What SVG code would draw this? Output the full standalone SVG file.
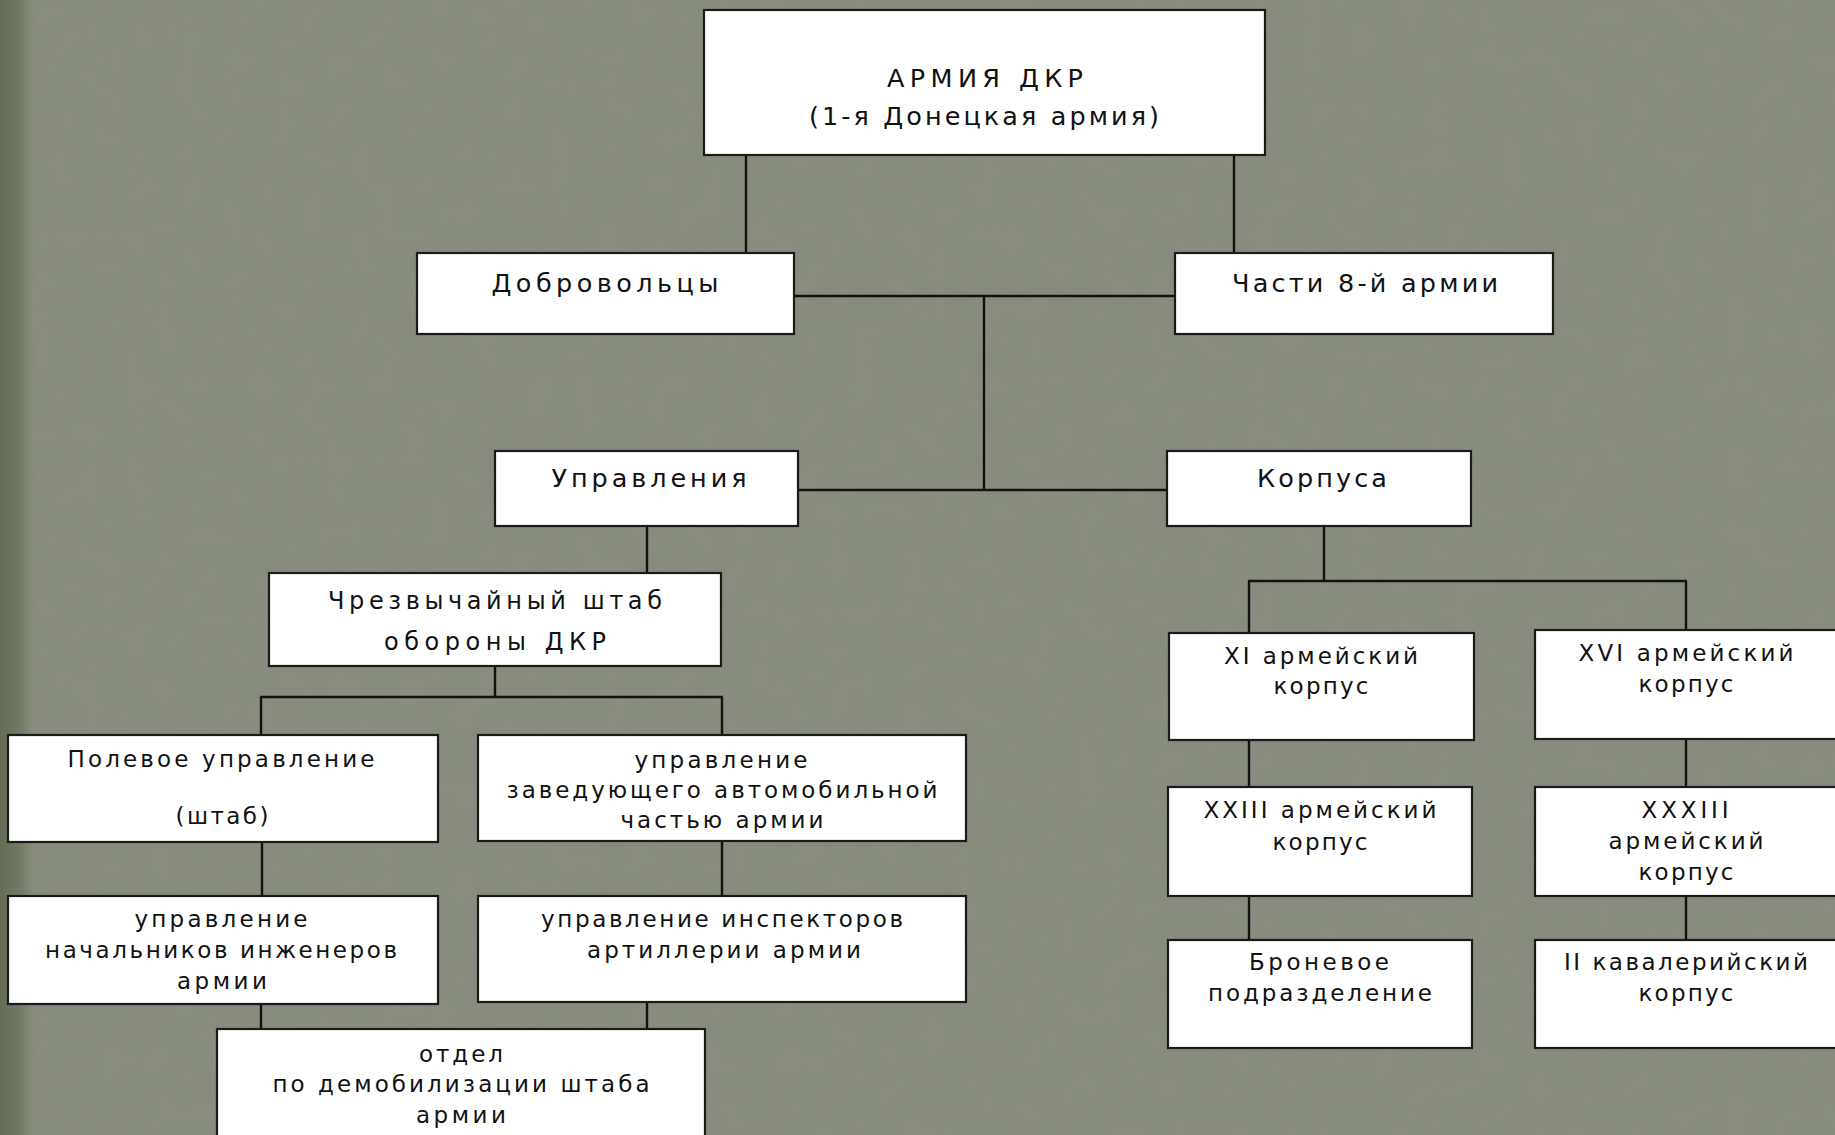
<svg xmlns="http://www.w3.org/2000/svg" width="1835" height="1135" viewBox="0 0 1835 1135">
<defs>
<style>
.box{fill:#ffffff;stroke:#1a1a1a;stroke-width:2.2}
.ln{stroke:#111111;stroke-width:2.4;fill:none}
text{font-family:"DejaVu Sans","Liberation Sans",sans-serif;fill:#111111;text-anchor:middle}
.t1{font-size:25.5px}
.t2{font-size:24px}
.t3{font-size:23px}
</style>
<linearGradient id="edge" x1="0" y1="0" x2="1" y2="0">
<stop offset="0" stop-color="#646c55"/>
<stop offset="0.6" stop-color="#737a66"/>
<stop offset="1" stop-color="#858a7c" stop-opacity="0"/>
</linearGradient>
<filter id="tex" x="0" y="0" width="100%" height="100%">
<feTurbulence type="fractalNoise" baseFrequency="0.04" numOctaves="3" seed="4"/>
<feColorMatrix type="matrix" values="0 0 0 0 0.35  0 0 0 0 0.38  0 0 0 0 0.32  0 0 0 0.35 -0.08"/>
</filter>
</defs>
<rect x="0" y="0" width="1835" height="1135" fill="#868b7d"/>
<rect x="0" y="0" width="1835" height="1135" filter="url(#tex)" opacity="0.5"/>
<rect x="0" y="0" width="36" height="1135" fill="url(#edge)"/>

<g id="connectors">
<line class="ln" x1="746" y1="155" x2="746" y2="253"/>
<line class="ln" x1="1234" y1="155" x2="1234" y2="253"/>
<line class="ln" x1="794" y1="296" x2="1175" y2="296"/>
<line class="ln" x1="984" y1="296" x2="984" y2="491"/>
<line class="ln" x1="798" y1="490" x2="1167" y2="490"/>
<line class="ln" x1="647" y1="526" x2="647" y2="573"/>
<line class="ln" x1="495" y1="666" x2="495" y2="697"/>
<line class="ln" x1="260" y1="697" x2="723" y2="697"/>
<line class="ln" x1="261" y1="697" x2="261" y2="735"/>
<line class="ln" x1="722" y1="697" x2="722" y2="735"/>
<line class="ln" x1="262" y1="842" x2="262" y2="896"/>
<line class="ln" x1="722" y1="841" x2="722" y2="896"/>
<line class="ln" x1="261" y1="1004" x2="261" y2="1029"/>
<line class="ln" x1="647" y1="1002" x2="647" y2="1029"/>
<line class="ln" x1="1324" y1="526" x2="1324" y2="581"/>
<line class="ln" x1="1248" y1="581" x2="1687" y2="581"/>
<line class="ln" x1="1249" y1="581" x2="1249" y2="633"/>
<line class="ln" x1="1686" y1="581" x2="1686" y2="630"/>
<line class="ln" x1="1249" y1="740" x2="1249" y2="787"/>
<line class="ln" x1="1686" y1="739" x2="1686" y2="787"/>
<line class="ln" x1="1249" y1="896" x2="1249" y2="940"/>
<line class="ln" x1="1686" y1="896" x2="1686" y2="940"/>
</g>

<g id="army">
<rect class="box" x="704" y="10" width="561" height="145"/>
<text class="t1" x="985" y="87" textLength="196" lengthAdjust="spacing">АРМИЯ ДКР</text>
<text class="t1" x="984" y="125" textLength="350" lengthAdjust="spacing">(1-я Донецкая армия)</text>
</g>
<g id="volunteers">
<rect class="box" x="417" y="253" width="377" height="81"/>
<text class="t1" x="605" y="292" textLength="227" lengthAdjust="spacing">Добровольцы</text>
</g>
<g id="army8">
<rect class="box" x="1175" y="253" width="378" height="81"/>
<text class="t1" x="1365" y="292" textLength="266" lengthAdjust="spacing">Части 8-й армии</text>
</g>
<g id="directorates">
<rect class="box" x="495" y="451" width="303" height="75"/>
<text class="t1" x="649" y="487" textLength="195" lengthAdjust="spacing">Управления</text>
</g>
<g id="corps">
<rect class="box" x="1167" y="451" width="304" height="75"/>
<text class="t1" x="1322" y="487" textLength="130" lengthAdjust="spacing">Корпуса</text>
</g>
<g id="emergency-hq">
<rect class="box" x="269" y="573" width="452" height="93"/>
<text class="t2" x="495" y="609" textLength="334" lengthAdjust="spacing">Чрезвычайный штаб</text>
<text class="t2" x="495" y="650" textLength="222" lengthAdjust="spacing">обороны ДКР</text>
</g>
<g id="field-directorate">
<rect class="box" x="8" y="735" width="430" height="107"/>
<text class="t3" x="221" y="767" textLength="307" lengthAdjust="spacing">Полевое управление</text>
<text class="t3" x="222" y="824" textLength="93" lengthAdjust="spacing">(штаб)</text>
</g>
<g id="auto-directorate">
<rect class="box" x="478" y="735" width="488" height="106"/>
<text class="t3" x="721" y="768" textLength="173" lengthAdjust="spacing">управление</text>
<text class="t3" x="722" y="798" textLength="431" lengthAdjust="spacing">заведующего автомобильной</text>
<text class="t3" x="722" y="828" textLength="203" lengthAdjust="spacing">частью армии</text>
</g>
<g id="engineers-directorate">
<rect class="box" x="8" y="896" width="430" height="108"/>
<text class="t3" x="221" y="927" textLength="173" lengthAdjust="spacing">управление</text>
<text class="t3" x="221" y="958" textLength="352" lengthAdjust="spacing">начальников инженеров</text>
<text class="t3" x="222" y="989" textLength="90" lengthAdjust="spacing">армии</text>
</g>
<g id="artillery-directorate">
<rect class="box" x="478" y="896" width="488" height="106"/>
<text class="t3" x="722" y="927" textLength="362" lengthAdjust="spacing">управление инспекторов</text>
<text class="t3" x="724" y="958" textLength="274" lengthAdjust="spacing">артиллерии армии</text>
</g>
<g id="demobilization">
<rect class="box" x="217" y="1029" width="488" height="120"/>
<text class="t3" x="461" y="1062" textLength="84" lengthAdjust="spacing">отдел</text>
<text class="t3" x="461" y="1092" textLength="377" lengthAdjust="spacing">по демобилизации штаба</text>
<text class="t3" x="461" y="1123" textLength="90" lengthAdjust="spacing">армии</text>
</g>
<g id="corps-11">
<rect class="box" x="1169" y="633" width="305" height="107"/>
<text class="t3" x="1321" y="664" textLength="194" lengthAdjust="spacing">XI армейский</text>
<text class="t3" x="1321" y="694" textLength="95" lengthAdjust="spacing">корпус</text>
</g>
<g id="corps-16">
<rect class="box" x="1535" y="630" width="310" height="109"/>
<text class="t3" x="1686" y="661" textLength="215" lengthAdjust="spacing">XVI армейский</text>
<text class="t3" x="1686" y="692" textLength="95" lengthAdjust="spacing">корпус</text>
</g>
<g id="corps-23">
<rect class="box" x="1168" y="787" width="304" height="109"/>
<text class="t3" x="1320" y="818" textLength="233" lengthAdjust="spacing">XXIII армейский</text>
<text class="t3" x="1320" y="850" textLength="95" lengthAdjust="spacing">корпус</text>
</g>
<g id="corps-33">
<rect class="box" x="1535" y="787" width="310" height="109"/>
<text class="t3" x="1685" y="818" textLength="87" lengthAdjust="spacing">XXXIII</text>
<text class="t3" x="1686" y="849" textLength="155" lengthAdjust="spacing">армейский</text>
<text class="t3" x="1686" y="880" textLength="95" lengthAdjust="spacing">корпус</text>
</g>
<g id="armored">
<rect class="box" x="1168" y="940" width="304" height="108"/>
<text class="t3" x="1319" y="970" textLength="140" lengthAdjust="spacing">Броневое</text>
<text class="t3" x="1320" y="1001" textLength="224" lengthAdjust="spacing">подразделение</text>
</g>
<g id="cavalry-2">
<rect class="box" x="1535" y="940" width="310" height="108"/>
<text class="t3" x="1686" y="970" textLength="244" lengthAdjust="spacing">II кавалерийский</text>
<text class="t3" x="1686" y="1001" textLength="95" lengthAdjust="spacing">корпус</text>
</g>
</svg>
